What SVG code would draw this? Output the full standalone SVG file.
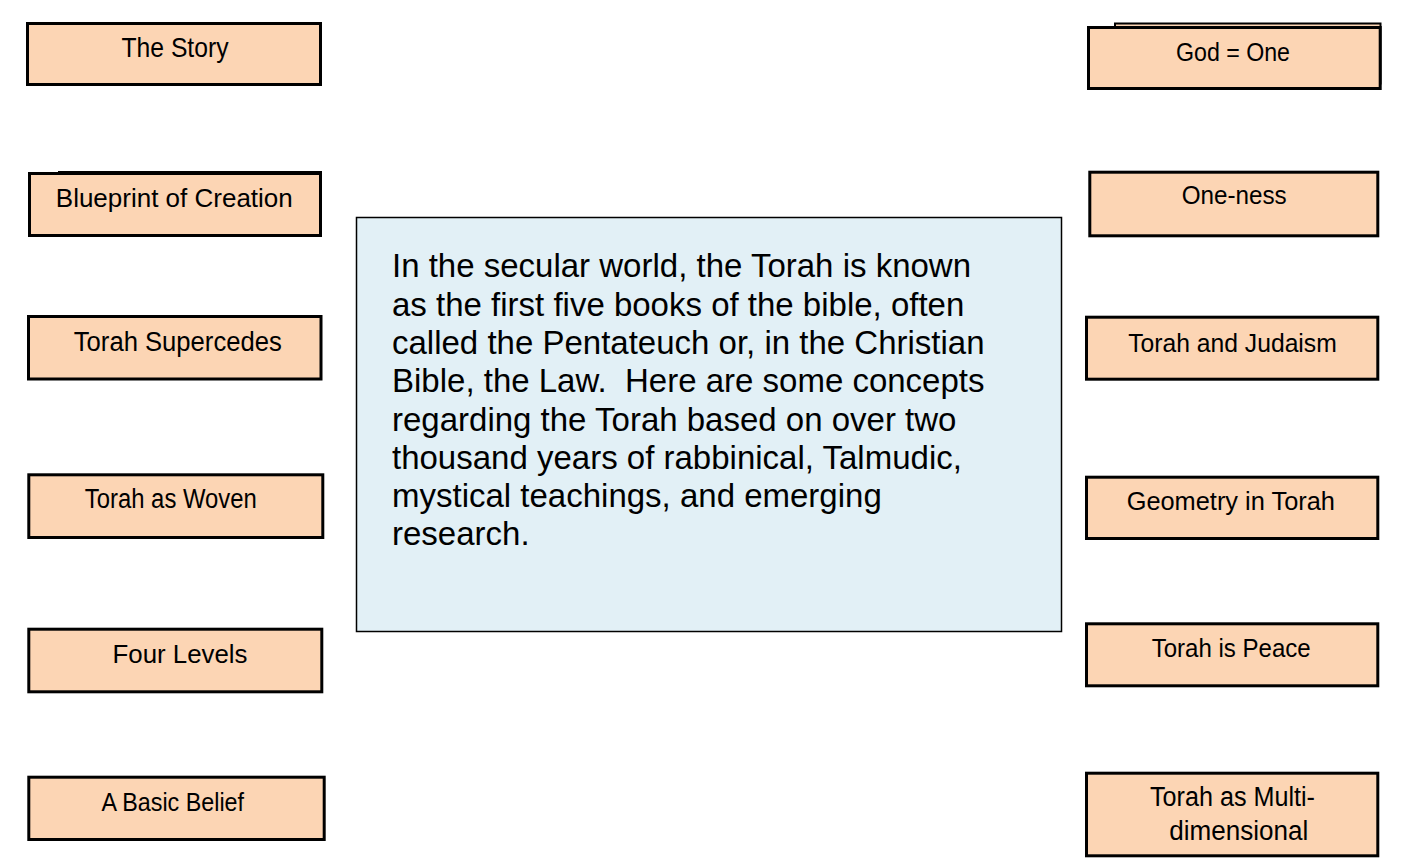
<svg xmlns="http://www.w3.org/2000/svg" width="1420" height="860" viewBox="0 0 1420 860">
<style>
.box{fill:#FCD5B4;stroke:#000;stroke-width:3}
.back{fill:#FCD5B4;stroke:#000;stroke-width:2}
.main{fill:#E2F0F6;stroke:#000;stroke-width:1.5}
.lbl{font-family:"Liberation Sans",Arial,sans-serif;fill:#000;text-anchor:middle}
.body{font-family:"Liberation Sans",Arial,sans-serif;font-size:33px;fill:#000}
</style>
<rect width="1420" height="860" fill="#fff"/>
<g id="connectors"></g>
<g id="main">
<rect class="main" x="356.5" y="217.5" width="705" height="414"/>
<text class="body" xml:space="preserve"><tspan x="392" y="277.3">In the secular world, the Torah is known</tspan><tspan x="392" y="315.6">as the first five books of the bible, often</tspan><tspan x="392" y="353.9">called the Pentateuch or, in the Christian</tspan><tspan x="392" y="392.2">Bible, the Law.  Here are some concepts</tspan><tspan x="392" y="430.5">regarding the Torah based on over two</tspan><tspan x="392" y="468.8">thousand years of rabbinical, Talmudic,</tspan><tspan x="392" y="507.1">mystical teachings, and emerging</tspan><tspan x="392" y="545.4">research.</tspan></text>
</g>
<g id="n-story">
<rect class="box" x="27.5" y="23.5" width="293" height="61"/>
<text class="lbl" x="175" y="56.7" font-size="28" textLength="107" lengthAdjust="spacingAndGlyphs">The Story</text>
</g>
<g id="n-blueprint">
<rect class="back" x="59" y="172" width="262" height="60"/>
<rect class="box" x="29.5" y="173.5" width="291" height="62"/>
<text class="lbl" x="174.3" y="207.3" font-size="26.5" textLength="237" lengthAdjust="spacingAndGlyphs">Blueprint of Creation</text>
</g>
<g id="n-supercedes">
<rect class="box" x="28.5" y="316.5" width="292.5" height="62.5"/>
<text class="lbl" x="177.8" y="351" font-size="27" textLength="208" lengthAdjust="spacingAndGlyphs">Torah Supercedes</text>
</g>
<g id="n-woven">
<rect class="box" x="28.8" y="474.8" width="294" height="62.7"/>
<text class="lbl" x="170.8" y="508.3" font-size="27" textLength="172" lengthAdjust="spacingAndGlyphs">Torah as Woven</text>
</g>
<g id="n-four">
<rect class="box" x="28.8" y="629.2" width="293" height="62.6"/>
<text class="lbl" x="180" y="663.3" font-size="26.5" textLength="135" lengthAdjust="spacingAndGlyphs">Four Levels</text>
</g>
<g id="n-basic">
<rect class="box" x="28.8" y="777.2" width="295.4" height="62.3"/>
<text class="lbl" x="172.8" y="811" font-size="26" textLength="142.5" lengthAdjust="spacingAndGlyphs">A Basic Belief</text>
</g>
<g id="n-god">
<rect class="back" x="1115" y="23.5" width="265.5" height="60"/>
<rect class="box" x="1088.5" y="27.5" width="291.7" height="61"/>
<text class="lbl" x="1233" y="61" font-size="26" textLength="114" lengthAdjust="spacingAndGlyphs">God = One</text>
</g>
<g id="n-oneness">
<rect class="box" x="1089.8" y="172.2" width="288" height="63.6"/>
<text class="lbl" x="1234.2" y="204" font-size="25.6" textLength="105" lengthAdjust="spacingAndGlyphs">One-ness</text>
</g>
<g id="n-judaism">
<rect class="box" x="1086.5" y="317.2" width="291.3" height="62"/>
<text class="lbl" x="1232.5" y="351.7" font-size="26.5" textLength="208.5" lengthAdjust="spacingAndGlyphs">Torah and Judaism</text>
</g>
<g id="n-geometry">
<rect class="box" x="1086.5" y="477.2" width="291.3" height="61.3"/>
<text class="lbl" x="1230.8" y="510" font-size="25.6" textLength="208.3" lengthAdjust="spacingAndGlyphs">Geometry in Torah</text>
</g>
<g id="n-peace">
<rect class="box" x="1086.5" y="623.8" width="291.3" height="62"/>
<text class="lbl" x="1231.2" y="657.3" font-size="26.5" textLength="159" lengthAdjust="spacingAndGlyphs">Torah is Peace</text>
</g>
<g id="n-multi">
<rect class="box" x="1086.5" y="773.2" width="291.3" height="82.6"/>
<text class="lbl" x="1232.5" y="806" font-size="27" textLength="165" lengthAdjust="spacingAndGlyphs">Torah as Multi-</text>
<text class="lbl" x="1238.8" y="840" font-size="27" textLength="139" lengthAdjust="spacingAndGlyphs">dimensional</text>
</g>
</svg>
